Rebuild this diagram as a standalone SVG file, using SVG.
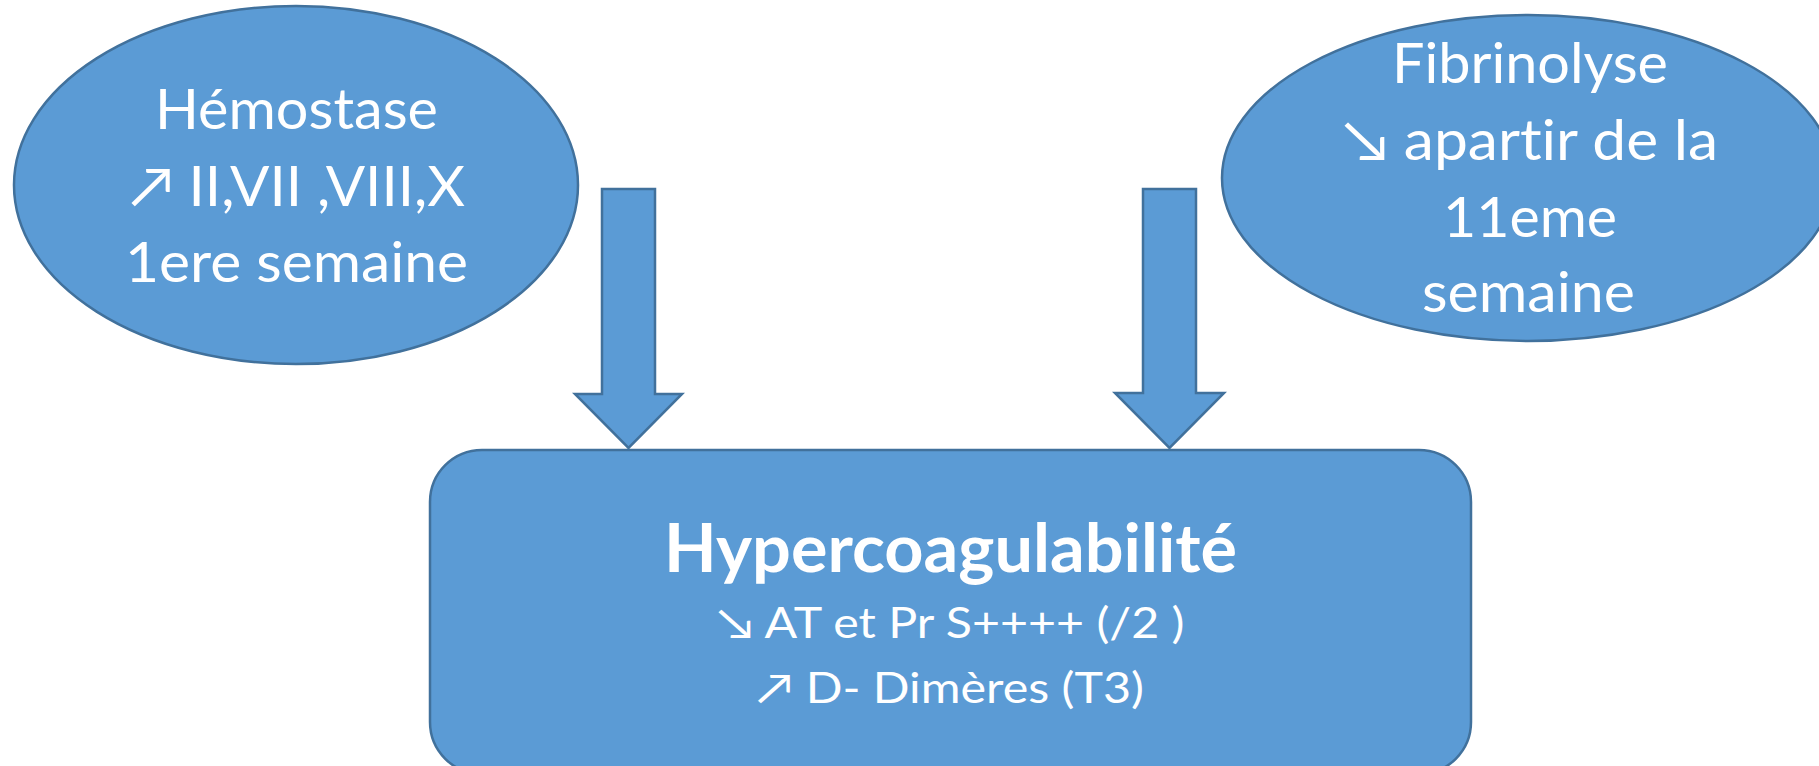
<svg xmlns="http://www.w3.org/2000/svg" width="1819" height="766" viewBox="0 0 1819 766">
  <style>
    .shape { fill: #5B9BD5; stroke: #41719C; stroke-width: 2.5; }
    .label { fill: #FFFFFF; font-family: Lato, "DejaVu Sans", sans-serif; text-anchor: middle; font-variant-ligatures: none; font-feature-settings: "liga" 0, "dlig" 0; }
    .big { font-size: 57px; }
    .title { font-size: 66px; font-weight: bold; }
    .sub { font-size: 43px; }
  </style>
  <rect width="1819" height="766" fill="#FFFFFF"/>

  <!-- Hemostasis node -->
  <g id="hemostase">
    <ellipse class="shape" cx="296" cy="185" rx="282" ry="179"/>
    <text class="label big" x="296.5" y="129" textLength="283" lengthAdjust="spacingAndGlyphs">Hémostase</text>
    <text class="label big" x="297.5" y="206" textLength="335" lengthAdjust="spacingAndGlyphs">↗ II,VII ,VIII,X</text>
    <text class="label big" x="296.5" y="282" textLength="343" lengthAdjust="spacingAndGlyphs">1ere semaine</text>
  </g>

  <!-- Fibrinolysis node -->
  <g id="fibrinolyse">
    <ellipse class="shape" cx="1528" cy="178" rx="306" ry="163"/>
    <text class="label big" x="1530" y="83" textLength="276" lengthAdjust="spacingAndGlyphs">Fibrinolyse</text>
    <text class="label big" x="1530.5" y="160" textLength="375" lengthAdjust="spacingAndGlyphs">↘ apartir de la</text>
    <text class="label big" x="1530" y="237" textLength="174" lengthAdjust="spacingAndGlyphs">11eme</text>
    <text class="label big" x="1528.5" y="312" textLength="213" lengthAdjust="spacingAndGlyphs">semaine</text>
  </g>

  <!-- Hypercoagulability node -->
  <g id="hypercoagulabilite">
    <rect class="shape" x="430" y="450" width="1041" height="324" rx="52" ry="52"/>
    <text class="label title" x="950.5" y="572" textLength="573" lengthAdjust="spacingAndGlyphs">Hypercoagulabilité</text>
    <text class="label sub" x="951" y="638" textLength="467" lengthAdjust="spacingAndGlyphs">↘ AT et Pr S++++ (/2 )</text>
    <text class="label sub" x="950.5" y="703" textLength="387" lengthAdjust="spacingAndGlyphs">↗ D- Dimères (T3)</text>
  </g>

  <!-- Block arrows feeding the bottom node -->
  <g id="connectors">
    <polygon class="shape" points="602,189 655,189 655,394 682,394 628.5,448 575,394 602,394"/>
    <polygon class="shape" points="1143,189 1196,189 1196,393 1224,393 1169.5,448 1115,393 1143,393"/>
  </g>
</svg>
